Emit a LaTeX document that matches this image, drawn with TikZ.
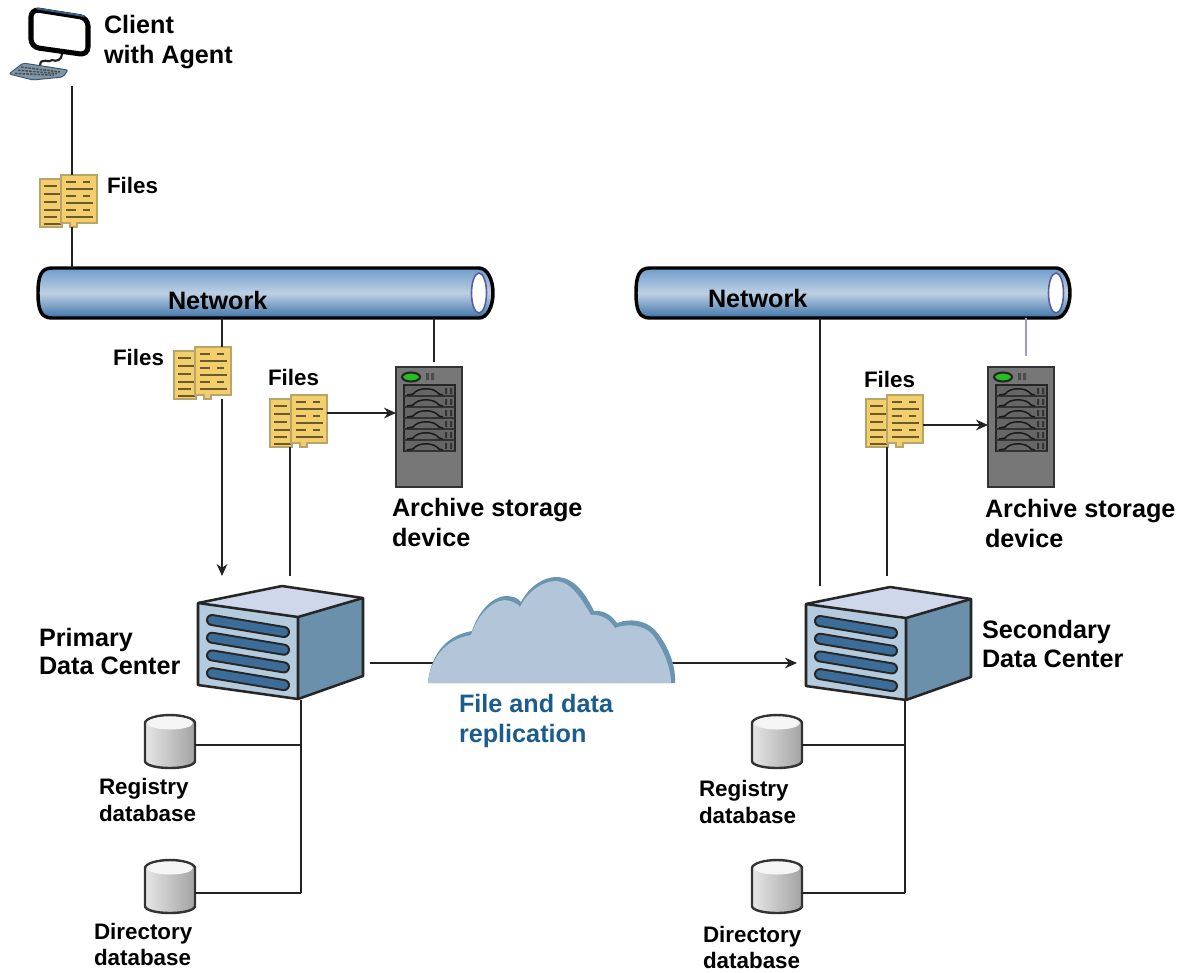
\documentclass[tikz,border=0pt]{standalone}
\usepackage{fontspec}
\setmainfont{Liberation Sans}
\usetikzlibrary{arrows.meta}
\definecolor{ink}{HTML}{222222}
\definecolor{folder}{HTML}{F3CE6C}
\definecolor{folderedge}{HTML}{B9A469}
\definecolor{folderline}{HTML}{6B5A2C}
\definecolor{cloudlight}{HTML}{B3C6D9}
\definecolor{clouddark}{HTML}{6A94B0}
\definecolor{srvface}{HTML}{B4CBDD}
\definecolor{srvtop}{HTML}{CFD8EA}
\definecolor{srvside}{HTML}{6A90AC}
\definecolor{srvslot}{HTML}{3C6C98}
\definecolor{repl}{HTML}{1B5C8E}
\definecolor{monblue}{HTML}{3A5F85}
\definecolor{keybody}{HTML}{7D97AC}
\definecolor{keyedge}{HTML}{3C5468}
\definecolor{storebody}{HTML}{777777}
\definecolor{storeedge}{HTML}{333333}
\definecolor{ledgreen}{HTML}{22C022}
\definecolor{storeslot}{HTML}{666666}
\definecolor{pipetop}{HTML}{6E9CCB}
\definecolor{pipebot}{HTML}{3D73A8}
\definecolor{pipemid}{HTML}{BDD0E3}
\definecolor{pipering}{HTML}{5C5CA0}
\tikzset{
  hitbox/.style 2 args={minimum width=#1*0.75pt,minimum height=#2*0.75pt,inner sep=0pt,outer sep=0pt,anchor=north west},
  lab/.style={font=\fontsize{18.9}{#1}\selectfont\bfseries,align=left,anchor=base west,inner sep=0pt,outer sep=0pt,text=black},
  smalllab/.style={font=\fontsize{16.8}{#1}\selectfont\bfseries,align=left,anchor=base west,inner sep=0pt,outer sep=0pt,text=black},
  conn/.style={draw=ink,line width=1.1pt},
  arr/.style={conn,-{Stealth[length=9pt,width=8pt]}},
  pics/monitor/.style={code={
    \node[hitbox={91}{80}] (-box) at (0,0) {};
    \draw[ink,line width=1.6pt,line cap=round] (40,66) .. controls (40,56) and (50,64) .. (52,60) .. controls (56,62) and (62,60) .. (62,54);
    \draw[black,line width=3.8pt,fill=white,rounded corners=6pt] (31,9) -- (88,18) -- (88,55) -- (31,47) -- cycle;
    \draw[monblue,line width=1.4pt,line cap=round] (37,8.5) -- (84,16);
    \fill[keybody,draw=keyedge,line width=.7pt,rounded corners=1.5pt] (9,74) -- (23,63) -- (68,70) -- (63,77) -- (33,80) -- cycle;
    \foreach \r in {0,1,2}{\draw[black!70,line width=1.1pt,dash pattern=on 2pt off .8pt] (21-3*\r,67+3.2*\r) -- (60-3*\r,72+1.6*\r);}
  }},
  pics/files/.style={code={
    \node[hitbox={57}{52}] (-box) at (0,0) {};
    \fill[folder,draw=folderedge,line width=.8pt] (0,4) rectangle (22,52);
    \foreach \y/\w in {11/13,19/17,27/13,35/17,42/13,49/17}{\draw[folderline,line width=1.1pt] (4,\y) -- (4+\w,\y);}
    \fill[folder,draw=folderedge,line width=.8pt] (21,0) -- (57,0) -- (57,48) -- (37,48) -- (37,52) -- (30,52) -- (30,48) -- (21,48) -- cycle;
    \foreach \y in {7,21,35}{\draw[folderline,line width=1.1pt] (26,\y) -- (36,\y) (43,\y) -- (50,\y);}
    \foreach \y in {14,28,42}{\draw[folderline,line width=1.1pt] (26,\y) -- (53,\y);}
  }},
  pics/storage/.style={code={
    \node[hitbox={66}{120}] (-box) at (0,0) {};
    \fill[storebody,draw=storeedge,line width=1.6pt] (0,0) rectangle (66,120);
    \fill[ledgreen,draw=black!85,line width=1.6pt] (15,10) ellipse (9 and 4.5);
    \fill[black!70] (30,6) rectangle (33,13) (35,6) rectangle (38,13);
    \fill[storeslot,draw=black!85,line width=1.4pt] (8,18) rectangle (59,84);
    \foreach \i in {0,1,2,3,4,5}{
      \begin{scope}[shift={(0,18+11*\i)}]
        \draw[black!80,line width=.8pt] (8,11) -- (59,11);
        \draw[black!90,line width=1.1pt] (11,10) -- (17,9) .. controls (22,2) and (38,2) .. (43,9) -- (47,10);
        \fill[black!80] (49,3) rectangle (51,9) (54,3) rectangle (56,9);
        \draw[black!60,line width=.7pt] (11,5) -- (19,3) (43,3) -- (47,3);
      \end{scope}}
  }},
  pics/server/.style={code={
    \node[hitbox={165}{113}] (-box) at (0,0) {};
    \fill[srvtop] (0,17) -- (84,0) -- (165,12) -- (100,31) -- cycle;
    \fill[srvface] (0,17) -- (100,31) -- (100,113) -- (0,99) -- cycle;
    \fill[srvside] (100,31) -- (165,12) -- (165,90) -- (100,113) -- cycle;
    \draw[black!85,line width=1.9pt,line join=round] (0,17) -- (84,0) -- (165,12) -- (165,90) -- (100,113) -- (0,99) -- cycle;
    \draw[black!85,line width=1.9pt,line join=round] (0,17) -- (100,31) -- (165,12) (100,31) -- (100,113);
    \foreach \i in {0,1,2,3}{
      \draw[black!85,line width=9pt,line cap=round] (14,34+17.7*\i) -- (86,46+17.7*\i);
      \draw[srvslot,line width=6pt,line cap=round] (14,34+17.7*\i) -- (86,46+17.7*\i);
    }
  }},
  pics/dbase/.style={code={
    \node[hitbox={50}{53}] (-box) at (0,0) {};
    \path[left color=black!10,right color=black!36,draw=black!80,line width=1.8pt]
      (0,8) -- (0,46) .. controls (0,50) and (11,53) .. (25,53) .. controls (39,53) and (50,50) .. (50,46)
      -- (50,8) .. controls (50,4) and (39,0) .. (25,0) .. controls (11,0) and (0,4) .. (0,8) -- cycle;
    \fill[black!4] (25,8) ellipse (23 and 6.5);
  }},
  pics/pipe/.style={code={
    \node[hitbox={#1}{50}] (-box) at (0,0) {};
    \path[top color=pipetop,bottom color=pipebot,middle color=pipemid,draw=black,line width=2.6pt,line join=round]
      (14,0) -- (#1-14,0) .. controls (#1-6,0) and (#1,11) .. (#1,25) .. controls (#1,39) and (#1-6,50) .. (#1-14,50) -- (14,50)
      .. controls (3,50) and (0,42) .. (0,25) .. controls (0,8) and (3,0) .. (14,0) -- cycle;
    \fill[white,draw=pipering,line width=1.2pt] (#1-14,25) ellipse (7.5 and 20);
  }}
}
\begin{document}
\begin{tikzpicture}[x=0.75pt,y=-0.75pt]
\useasboundingbox[fill=white] (0,0) rectangle (1188,972);

% guide columns for vertical connectors
\coordinate (xclient) at (72,0);
\coordinate (xdown) at (222,0);
\coordinate (xarchL) at (434,0);
\coordinate (xfilesL) at (290,0);
\coordinate (xnetR) at (820,0);
\coordinate (xarchR) at (1026,0);
\coordinate (xfilesR) at (887,0);
\coordinate (xdbL) at (301,0);
\coordinate (xdbR) at (905,0);

% free ends
\coordinate (downend) at (222,576);
\coordinate (srvLtopA) at (290,576);
\coordinate (srvRtopA) at (820,586);
\coordinate (srvRtopB) at (887,576);
\coordinate (archLtop) at (434,362);
\coordinate (archRtop) at (1026,356);
\coordinate (replA) at (370,663);
\coordinate (replB) at (797,663);
\coordinate (busL) at (301,893);
\coordinate (busR) at (905,893);

% connectors under icons
\draw[conn] (busL |- 0,700) -- (busL);
\draw[conn] (busR |- 0,700) -- (busR);
\draw[arr] (replA) -- (replB);

\pic (mon) at (0,0) {monitor};
\pic (f1) at (40,175) {files};
\pic (f2) at (174,347) {files};
\pic (f3) at (270,395) {files};
\pic (f4) at (866,395) {files};
\pic (s1) at (396,367) {storage};
\pic (s2) at (988,367) {storage};
\pic (d1) at (198,586) {server};
\pic (d2) at (806,587) {server};
\pic (n1) at (38,268) {pipe=455};
\pic (n2) at (636,268) {pipe=434};
\pic (db1) at (145,715) {dbase};
\pic (db2) at (145,860) {dbase};
\pic (db3) at (752,715) {dbase};
\pic (db4) at (752,860) {dbase};

% cloud
\fill[clouddark] (428,683) .. controls (430,660) and (442,636) .. (472,631)
  .. controls (478,612) and (492,597) .. (505,596) .. controls (513,596) and (518,598) .. (521,602)
  .. controls (530,585) and (545,577) .. (556,577) .. controls (575,577) and (586,595) .. (594,611)
  .. controls (605,610) and (612,616) .. (617,623) .. controls (630,618) and (645,620) .. (655,630)
  .. controls (668,645) and (676,665) .. (675,683) -- cycle;
\fill[cloudlight] (428,683) .. controls (430,662) and (442,640) .. (471,635)
  .. controls (477,616) and (491,601) .. (505,600) .. controls (512,601) and (517,603) .. (520,607)
  .. controls (529,589) and (545,581) .. (556,581) .. controls (572,582) and (582,600) .. (591,615)
  .. controls (602,614) and (610,620) .. (615,628) .. controls (628,623) and (643,625) .. (652,634)
  .. controls (663,648) and (671,668) .. (671,683) -- cycle;

% connectors between named icons
\draw[conn] (mon-box.south -| xclient) ++(0,6) -- (f1-box.north -| xclient);
\draw[conn] (f1-box.south -| xclient) -- (n1-box.north -| xclient);
\draw[conn] (n1-box.south -| xdown) -- (f2-box.north -| xdown);
\draw[arr] (f2-box.south -| xdown) -- (downend);
\draw[conn] (n1-box.south -| xarchL) -- (archLtop);
\draw[conn] (f3-box.south -| xfilesL) -- (srvLtopA);
\draw[arr] (f3-box.east |- 0,413) -- (s1-box.west |- 0,413);
\draw[conn] (n2-box.south -| xnetR) -- (srvRtopA);
\draw[conn,draw=pipering!60] (n2-box.south -| xarchR) -- (archRtop);
\draw[conn] (f4-box.south -| xfilesR) -- (srvRtopB);
\draw[arr] (f4-box.east |- 0,425) -- (s2-box.west |- 0,425);
\draw[conn] (db1-box.east |- 0,745) -- (xdbL |- 0,745);
\draw[conn] (db2-box.east |- 0,893) -- (busL);
\draw[conn] (db3-box.east |- 0,745) -- (xdbR |- 0,745);
\draw[conn] (db4-box.east |- 0,893) -- (busR);

% labels
\node[lab=22.5pt] (tclient) at (104,63) {Client\\with Agent};
\node[smalllab=20pt] (tf1) at (107,193) {Files};
\node[lab=22pt] (tn1) at (168,309) {Network};
\node[lab=22pt] (tn2) at (708,307) {Network};
\node[smalllab=20pt] (tf2) at (113,365) {Files};
\node[smalllab=20pt] (tf3) at (268,385) {Files};
\node[smalllab=20pt] (tf4) at (864,387) {Files};
\node[lab=22.5pt] (ta1) at (392,546) {Archive storage\\device};
\node[lab=22.5pt] (ta2) at (985,547) {Archive storage\\device};
\node[lab=20.5pt] (tp) at (39,674) {Primary\\Data Center};
\node[lab=21.75pt] (ts) at (982,667) {Secondary\\Data Center};
\node[lab=22.5pt,text=repl] (tr) at (459,742) {File and data\\replication};
\node[smalllab=20.25pt] (tg1) at (99,821) {Registry\\database};
\node[smalllab=20.25pt] (tg2) at (699,823) {Registry\\database};
\node[smalllab=19.5pt] (td1) at (94,965) {Directory\\database};
\node[smalllab=19.5pt] (td2) at (703,968) {Directory\\database};
\end{tikzpicture}
\end{document}
